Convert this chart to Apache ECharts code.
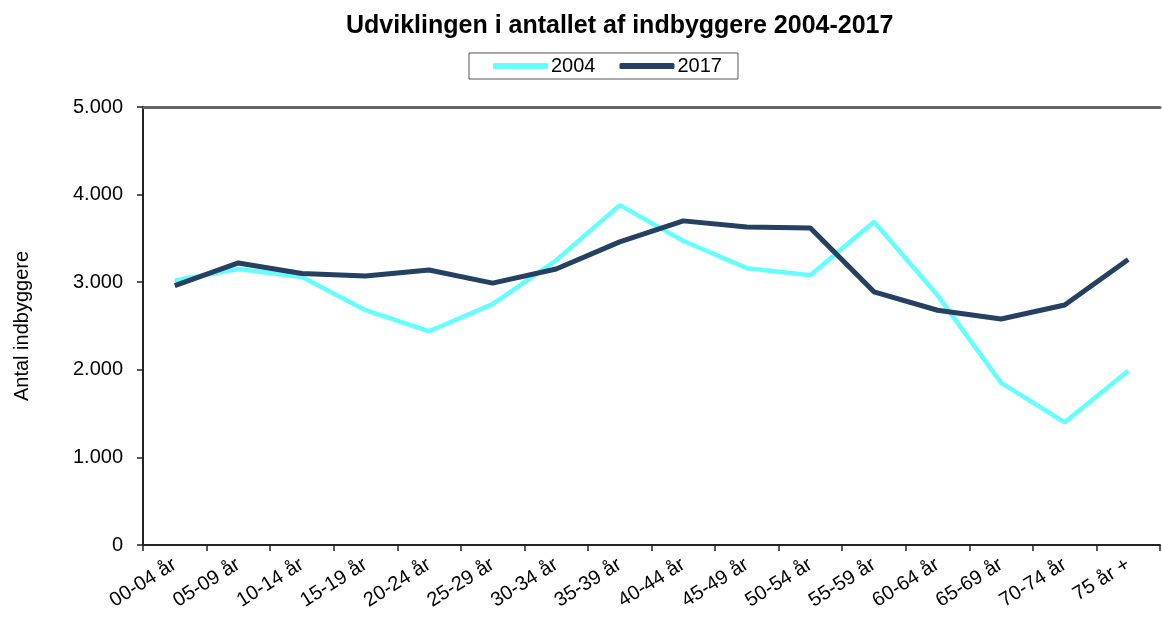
<!DOCTYPE html>
<html><head><meta charset="utf-8">
<script src="https://cdn.jsdelivr.net/npm/echarts@6/dist/echarts.min.js"></script>
<style>html,body{margin:0;padding:0;background:#fff}#c{width:1163px;height:617px}</style>
</head><body><div id="c"></div>
<script>
var categories = ['00-04 år','05-09 år','10-14 år','15-19 år','20-24 år','25-29 år','30-34 år','35-39 år','40-44 år','45-49 år','50-54 år','55-59 år','60-64 år','65-69 år','70-74 år','75 år +'];
var values2004 = [3020,3150,3060,2680,2440,2750,3250,3880,3470,3160,3080,3690,2850,1850,1400,1990];
var values2017 = [2960,3220,3100,3070,3140,2990,3150,3460,3700,3630,3620,2890,2680,2580,2740,3260];
var yTicks = [0,1000,2000,3000,4000,5000];

var chart = echarts.init(document.getElementById('c'));
var font = '"Liberation Sans", Arial, sans-serif';
chart.setOption({
  animation:false,
  title:{text:'Udviklingen i antallet af indbyggere 2004-2017',left:341,top:9,
    textStyle:{fontFamily:font,fontSize:25,fontWeight:'bold',color:'#000'}},
  legend:{top:53,left:469,itemWidth:55,itemHeight:6,itemGap:24,padding:[3,16,3,24],
    borderColor:'#555',borderWidth:1,
    textStyle:{fontFamily:font,fontSize:20,color:'#000',padding:[0,0,0,-2]},
    data:[{name:'2004',icon:'roundRect'},{name:'2017',icon:'roundRect'}]},
  grid:{left:143,right:3,top:107,bottom:72,containLabel:false},
  xAxis:[{type:'category',data:categories,boundaryGap:true,
    axisLine:{lineStyle:{color:'#222',width:2}},
    axisTick:{show:true,length:6,lineStyle:{color:'#222',width:1.5},alignWithLabel:false},
    axisLabel:{rotate:32,fontFamily:font,fontSize:20,color:'#000',margin:18,interval:0}},
   {type:'category',position:'top',data:categories,
    axisLine:{show:true,lineStyle:{color:'#666',width:3}},axisTick:{show:false},axisLabel:{show:false}}],
  yAxis:{type:'value',min:0,max:5000,interval:1000,
    name:'Antal indbyggere',nameLocation:'middle',nameGap:111,nameRotate:90,
    nameTextStyle:{fontFamily:font,fontSize:20,color:'#000'},
    axisLine:{show:true,lineStyle:{color:'#222',width:2}},
    axisTick:{show:true,length:6,lineStyle:{color:'#222',width:1.5}},
    splitLine:{show:false},
    axisLabel:{fontFamily:font,fontSize:20,color:'#000',margin:20,
      formatter:function(v){return v===0?'0':v.toLocaleString('de-DE');}}},
  series:[
    {name:'2004',type:'line',data:values2004,symbol:'none',lineStyle:{color:'#66FFFF',width:4.5},itemStyle:{color:'#66FFFF'}},
    {name:'2017',type:'line',data:values2017,symbol:'none',lineStyle:{color:'#254061',width:5},itemStyle:{color:'#254061'}}
  ]
});
</script></body></html>
